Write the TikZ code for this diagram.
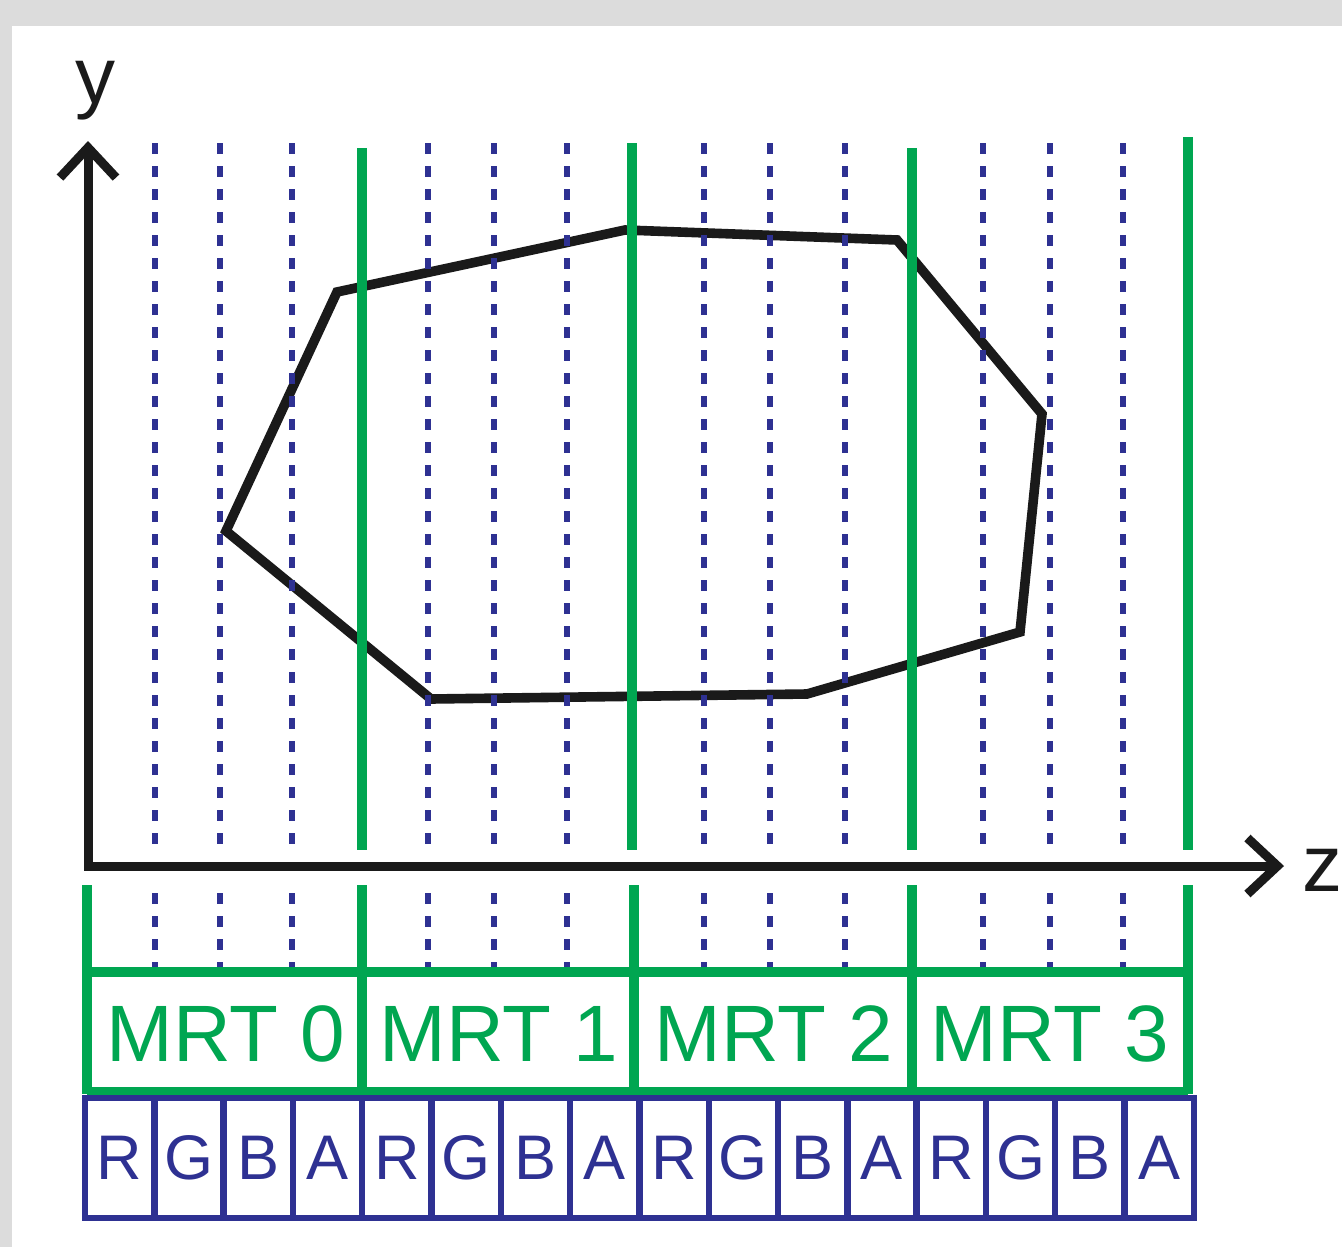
\documentclass[tikz,border=0pt]{standalone}
\usepackage{fontspec}
\setmainfont{Liberation Sans}
\usetikzlibrary{arrows.meta}
\definecolor{mgreen}{HTML}{00A651}
\definecolor{mnavy}{HTML}{2E3192}
\definecolor{mgray}{HTML}{DCDCDC}
\definecolor{mblack}{HTML}{1A1A1A}
\begin{document}
\begin{tikzpicture}[x=0.5pt,y=-0.5pt,
  dotline/.style={mnavy, line width=3.4pt, dash pattern=on 5.5pt off 6pt},
  greenline/.style={mgreen, line width=5pt},
  axisline/.style={mblack, line width=4.5pt, line join=miter,
    {Straight Barb[length=15pt,width=28pt]}-{Straight Barb[length=15pt,width=28pt]}},
  poly/.style={mblack, line width=4.8pt, line join=miter},
  mrt/.style={text=mgreen, font=\fontsize{40}{40}\selectfont, inner sep=0pt},
  chan/.style={draw=mnavy, line width=3.2pt, text=mnavy, font=\fontsize{31.5}{31.5}\selectfont,
    minimum width=34.65pt, minimum height=60pt, inner sep=0pt},
  axlabel/.style={text=mblack, font=\fontsize{40}{40}\selectfont, inner sep=0pt, anchor=base}
]
\useasboundingbox (0,0) rectangle (1342,1247);
\fill[mgray] (0,0) rectangle (1342,1247);
\fill[white] (12,26) rectangle (1342,1247);

% object polygon
\draw[poly] (337,292) -- (625,230) -- (897,240) -- (1042,414) -- (1020,632)
  -- (807,694) -- (431,699) -- (226,531) -- cycle;

% dotted slice lines
\foreach \x in {155,220,292,428,494,567,704,770,845,983,1050,1123}{
  \draw[dotline] (\x,143) -- (\x,850);
  \draw[dotline] (\x,893) -- (\x,968);
}

% green MRT boundaries above the axis
\draw[greenline] (362,148) -- (362,850);
\draw[greenline] (632,143) -- (632,850);
\draw[greenline] (912,148) -- (912,850);
\draw[greenline] (1188,137) -- (1188,850);

% axes
\coordinate (O) at (88,866);
\coordinate (ytip) at (88,141);
\coordinate (ztip) at (1284,866);
\draw[axisline] (ytip) -- (O) -- (ztip);
\node[axlabel] (ylab) at (95,104) {y};
\node[axlabel] (zlab) at (1322,891) {z};

% green MRT box
\foreach \x in {87,362,634,912,1188}{
  \draw[greenline] (\x,885) -- (\x,1094);
}
\draw[greenline] (87,972) -- (1188,972);
\draw[greenline] (87,1092) -- (1188,1092);
\node[mrt] (m0) at (226,1034) {MRT 0};
\node[mrt] (m1) at (499,1034) {MRT 1};
\node[mrt] (m2) at (774,1034) {MRT 2};
\node[mrt] (m3) at (1050,1034) {MRT 3};

% RGBA channels
\foreach \i/\c in {0/R,1/G,2/B,3/A,4/R,5/G,6/B,7/A,8/R,9/G,10/B,11/A,12/R,13/G,14/B,15/A}{
  \node[chan] (c\i) at ({85+69.3*(\i+0.5)},1158) {\c};
}
\end{tikzpicture}
\end{document}
